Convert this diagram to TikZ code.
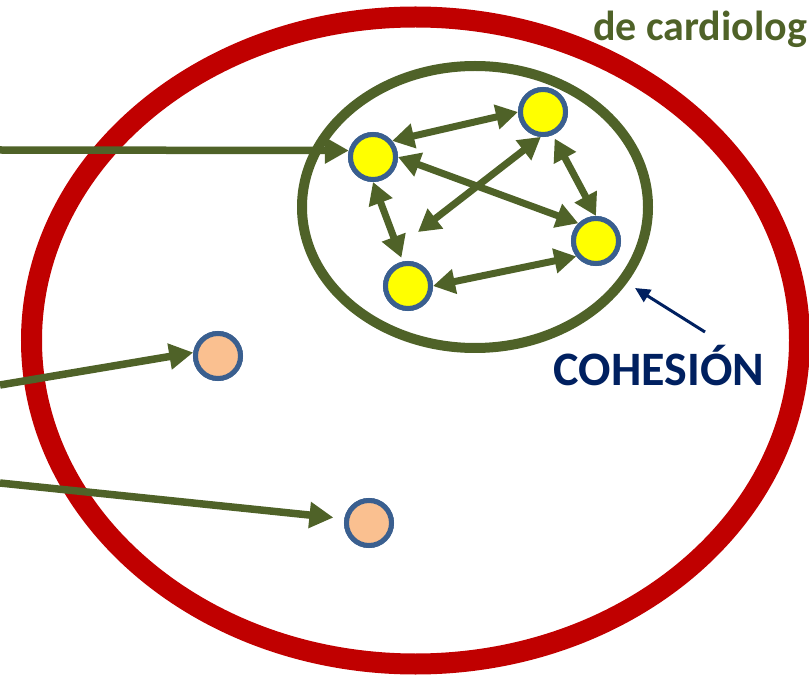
\documentclass[tikz,border=0pt]{standalone}
\usepackage{fontspec}
\setmainfont{Carlito}
\usetikzlibrary{arrows.meta}
\definecolor{olivegr}{HTML}{4F6228}
\definecolor{redring}{HTML}{C00000}
\definecolor{dotborder}{HTML}{3A5F8F}
\definecolor{yel}{HTML}{FFFF00}
\definecolor{peach}{HTML}{FAC090}
\definecolor{navy}{HTML}{002060}
\begin{document}
\begin{tikzpicture}[x=1pt,y=-1pt,
  dot/.style={circle,draw=dotborder,line width=5pt,minimum size=45pt,inner sep=0pt},
  ydot/.style={dot,fill=yel},
  odot/.style={dot,fill=peach},
  link/.style={draw=olivegr,line width=7.5pt,-{Triangle[length=24pt,width=25pt]}},
  dlink/.style={draw=olivegr,line width=7pt,{Triangle[length=22pt,width=24pt]}-{Triangle[length=22pt,width=24pt]}},
  lbl/.style={inner sep=0pt,font=\bfseries},
]
\useasboundingbox (0,0) rectangle (809,676);
% big red ellipse
\draw[redring,line width=21pt] (415.5,340.5) ellipse [x radius=384, y radius=323.5];
% green group ellipse
\draw[olivegr,line width=10pt] (475,207) ellipse [x radius=173, y radius=141];
% nodes
\node[ydot] (A) at (373,157) {};
\node[ydot] (B) at (543,112) {};
\node[ydot] (C) at (596,241) {};
\node[ydot] (D) at (408,286) {};
\node[odot] (E) at (218,356) {};
\node[odot] (F) at (369,523) {};
% free points
\coordinate (P) at (418,232);
\coordinate (inA) at (0,150);
\coordinate (inE) at (0,385);
\coordinate (inF) at (0,483);
\coordinate (cs) at (705,332);
\coordinate (ct) at (635,288);
% inner links
\draw[dlink] (A.40) -- (B.180);
\draw[dlink] (A.0) -- (C.135);
\draw[dlink,shorten >=4pt] (C.90) -- (B.-67);
\draw[dlink,shorten >=4pt] (A.-90) -- (D.102);
\draw[dlink] (D.0) -- (C.-142);
\draw[dlink] (B.-95) -- (P);
% incoming links
\draw[link] (inA) -- (A.165);
\draw[link] (inE) -- (E.172);
\draw[link,shorten >=11pt] (inF) -- (F.170);
% redraw nodes on top
\node[ydot] at (A) {};
\node[ydot] at (B) {};
\node[ydot] at (C) {};
\node[ydot] at (D) {};
\node[odot] at (E) {};
\node[odot] at (F) {};
% cohesion arrow and label
\draw[navy,line width=3pt,-{Triangle[length=15pt,width=14pt]}] (cs) -- (ct);
\node[lbl,text=navy,font=\bfseries\fontsize{48}{50}\selectfont,anchor=base] (coh) at (659,385) {COHESIÓN};
\node[lbl,text=olivegr,font=\bfseries\fontsize{42}{44}\selectfont,anchor=base west] (title) at (593,41) {de cardiolog};
\end{tikzpicture}
\end{document}
